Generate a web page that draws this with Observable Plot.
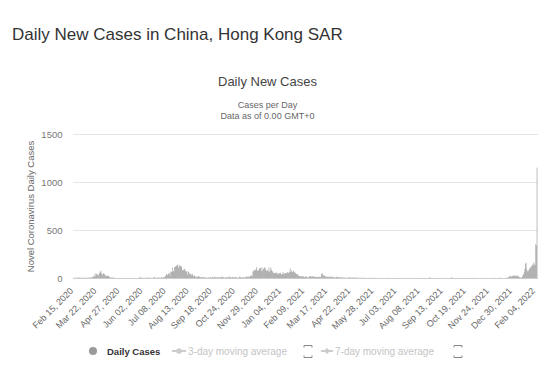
<!DOCTYPE html>
<html><head><meta charset="utf-8">
<script src="https://cdn.jsdelivr.net/npm/d3@7"></script>
<script src="https://cdn.jsdelivr.net/npm/@observablehq/plot@0.6"></script>
<style>
body{margin:0;width:545px;height:370px;position:relative;overflow:hidden;background:#fff;font-family:"Liberation Sans",Arial,sans-serif}
.abs{position:absolute;white-space:nowrap;line-height:1}
#chart{position:absolute;left:0;top:0}
</style></head><body>
<div id="chart"></div>
<div class="abs" style="left:12px;top:25.5px;font-size:17px;color:#333">Daily New Cases in China, Hong Kong SAR</div>
<div class="abs" style="left:0;width:535px;text-align:center;top:75px;font-size:13px;color:#444">Daily New Cases</div>
<div class="abs" style="left:0;width:535px;text-align:center;top:101px;font-size:9px;color:#666">Cases per Day</div>
<div class="abs" style="left:0;width:535px;text-align:center;top:111.5px;font-size:9px;color:#666">Data as of 0.00 GMT+0</div>
<div id="legend"></div>
<script>
// ---- data ----
const firstDay = "2020-02-15";
const lastDay = "2022-02-07";
const tickLabels = ["Feb 15, 2020","Mar 22, 2020","Apr 27, 2020","Jun 02, 2020","Jul 08, 2020","Aug 13, 2020","Sep 18, 2020","Oct 24, 2020","Nov 29, 2020","Jan 04, 2021","Feb 09, 2021","Mar 17, 2021","Apr 22, 2021","May 28, 2021","Jul 03, 2021","Aug 08, 2021","Sep 13, 2021","Oct 19, 2021","Nov 24, 2021","Dec 30, 2021","Feb 04, 2022"];
const yTicks = [0, 500, 1000, 1500];

const earlyStart = "2020-02-15";
const early2020 = [1,2,0,2,3,2,1,5,2,3,4,3,2,3,1,0,2,3,2,1,2,3,1,0,3,4,2,4,7];
const wave1Start = "2020-03-15";
const wave1 = [5,9,10,25,16,48,17,44,39,30,24,43,55,65,76,48,32,
  43,51,37,42,20,26,20,22,26,20,13,7,4,4,3,4,5,2,1,0];
const lull1Start = "2020-04-21";
const lull1 = [0,1,0,0,0,1,0,0,0,0,
  0,0,0,0,0,0,0,0,0,0, 0,0,0,0,0,0,0,0,0,0, 0,0,0,0,0,0,1,4,12,2,3,
  2,1,3,0,1,2,0,4,3,2, 1,6,3,1,2,1,0,2,3,4, 14,2,1,3,2,4,6,3,2,1,
  8,3,4,3];
const wave3Start = "2020-07-05";
const wave3 = [9,9,14,24,42,38,28,38,52,48,19,67,63,64,108,73,61,113,118,123,128,133,140,106,118,135,121,
  125,115,80,80,85,95,89,69,72,69,33,62,69,48,33,44,27,44,40,21,18,27,18,9,12,15,10,18,16,12,8,
  8,6,9,7,6,8,4,5,3,4,2,1,6,4,5];
const lull2Start = "2020-09-16";
const lull2 = [9,5,3,11,6,4,14,3,8,5,7,6,4,10,7,
  3,8,12,15,7,9,3,4,2,5, 9,8,3,6,10,17,8,6,3,12, 4,5,8,10,9,6,5,4,3,2,15,
  8,9,6,5,6,8,5,4,5,10,17,14,7,14,15,8,21,26];
const wave4Start = "2020-11-19";
const wave4 = [26,14,68,73,80,85,81,92,115,76,76,82,
  100,105,101,70,111,78,88,100,105,112, 85,74,78,81,61,110,67,73,108,86, 71,66,49,55,51,54,46,56,36,53,46,
  42,53,53,32,42,38,61,43,38,55, 50,52,50,61,52,55,62,100,64,81, 60,62,76,67,59,55,44,38,42,38,25,
  20,18,17,22,13,21,14,16,11,9, 14,21,12,4,8,5,15,20,18,17, 7,20,14,16,10,13,12,11];
const spring2021Start = "2021-03-01";
const spring2021 = [7,9,11,14,11,9,12,42,52,30, 28,26,18,17,11,15,13,10,14,6, 12,13,16,7,11,5,8,7,5,4,13,
  11,8,9,7,6,9,4,5,5,7, 2,6,4,2,3,1,4,1,7,6, 4,4,2,5,5,3,1,5,4,2,
  2,4,4,1,2,0,3,0,1,3, 2,1,0,3,1,1,0,0,1,2, 0,1,0,1,2,0,3,1,2,1,0];
const sporadicDates = ["2021-06-08","2021-06-20","2021-07-05","2021-07-19","2021-08-02","2021-08-24","2021-09-10","2021-09-27","2021-10-12","2021-10-30","2021-11-15","2021-12-02","2021-12-12"];
const sporadicValues = [2,3,1,2,3,12,2,10,1,3,2,4,5];
const wave5Start = "2021-12-21";
const wave5 = [2,4,3,5,9,18,22,14,12,25,19,
  24,20,28,22,18,24,26,15,19,12, 6,4,5,3,18,26,40,62,95,148, 160,95,72,60,80,100,92,110,128,118,140,
  130,164,142,131,351,342,1150];

// ---- build ----
const parse = d3.utcParse("%Y-%m-%d");
const byDay = new Map();
[[earlyStart, early2020],[wave1Start, wave1],[lull1Start, lull1],[wave3Start, wave3],[lull2Start, lull2],
 [wave4Start, wave4],[spring2021Start, spring2021],[wave5Start, wave5]].forEach(([s, vals]) => {
  const s0 = parse(s);
  vals.forEach((v, i) => byDay.set(+d3.utcDay.offset(s0, i), v));
});
sporadicDates.forEach((d, i) => byDay.set(+parse(d), sporadicValues[i]));
const d0 = parse(firstDay), d1 = parse(lastDay);
const days = d3.utcDay.range(d0, d3.utcDay.offset(d1, 1));
const data = days.map(d => ({date: d, cases: byDay.get(+d) ?? 0}));
const half = 12 * 3600 * 1000;
const tickDates = tickLabels.map(t => d3.utcParse("%b %d, %Y")(t));

const chart = Plot.plot({
  width: 545, height: 370,
  marginLeft: 73, marginRight: 7, marginTop: 134, marginBottom: 92,
  style: {fontFamily: '"Liberation Sans", Arial, sans-serif', background: "transparent"},
  x: {type: "utc", domain: [new Date(+d0 - half), new Date(+d1 + 3 * half)], axis: null},
  y: {domain: [0, 1500], axis: null},
  marks: [
    Plot.ruleY([500, 1000, 1500], {stroke: "#e6e6e6"}),
    Plot.rectY(data, {x1: d => new Date(+d.date - half), x2: d => new Date(+d.date + half), y: "cases", fill: "#9a9a9a"}),
    Plot.ruleY([0], {stroke: "#cccccc"}),
    Plot.text(yTicks, {y: d => d, text: d => String(d), frameAnchor: "left", textAnchor: "end", dx: -11, fontSize: 9.5, fill: "#777"}),
    Plot.text(["Novel Coronavirus Daily Cases"], {frameAnchor: "left", textAnchor: "middle", lineAnchor: "middle", rotate: -90, dx: -43, fontSize: 9.5, fill: "#666"}),
    Plot.text(tickDates, {x: d => d, y: 0, text: (d, i) => tickLabels[i], rotate: -45, textAnchor: "end", lineAnchor: "middle", dx: -2, dy: 11, fontSize: 9, fill: "#666"})
  ]
});
document.getElementById("chart").appendChild(chart);

// ---- legend ----
const legend = document.getElementById("legend");
legend.innerHTML = `
<svg style="position:absolute;left:0;top:340px" width="545" height="24">
  <circle cx="93" cy="11" r="4" fill="#9a9a9a"/>
  <line x1="172" x2="186" y1="11" y2="11" stroke="#ccc" stroke-width="2"/>
  <circle cx="179" cy="11" r="2.8" fill="#ccc"/>
  <path d="M304 5.5h8M304 5.5v2M312 5.5v2M304 17.5h8M304 17.5v-2M312 17.5v-2" stroke="#888" fill="none"/>
  <line x1="321" x2="333" y1="11" y2="11" stroke="#ccc" stroke-width="2"/>
  <path d="M327 8l3 3l-3 3l-3-3z" fill="#ccc"/>
  <path d="M454 5.5h8M454 5.5v2M462 5.5v2M454 17.5h8M454 17.5v-2M462 17.5v-2" stroke="#888" fill="none"/>
</svg>
<div class="abs" style="left:107px;top:346.5px;font-size:9.5px;font-weight:bold;color:#333">Daily Cases</div>
<div class="abs" style="left:188px;top:346.5px;font-size:10px;color:#c4c4c4">3-day moving average</div>
<div class="abs" style="left:335px;top:346.5px;font-size:10px;color:#c4c4c4">7-day moving average</div>
`;
</script>
</body></html>
